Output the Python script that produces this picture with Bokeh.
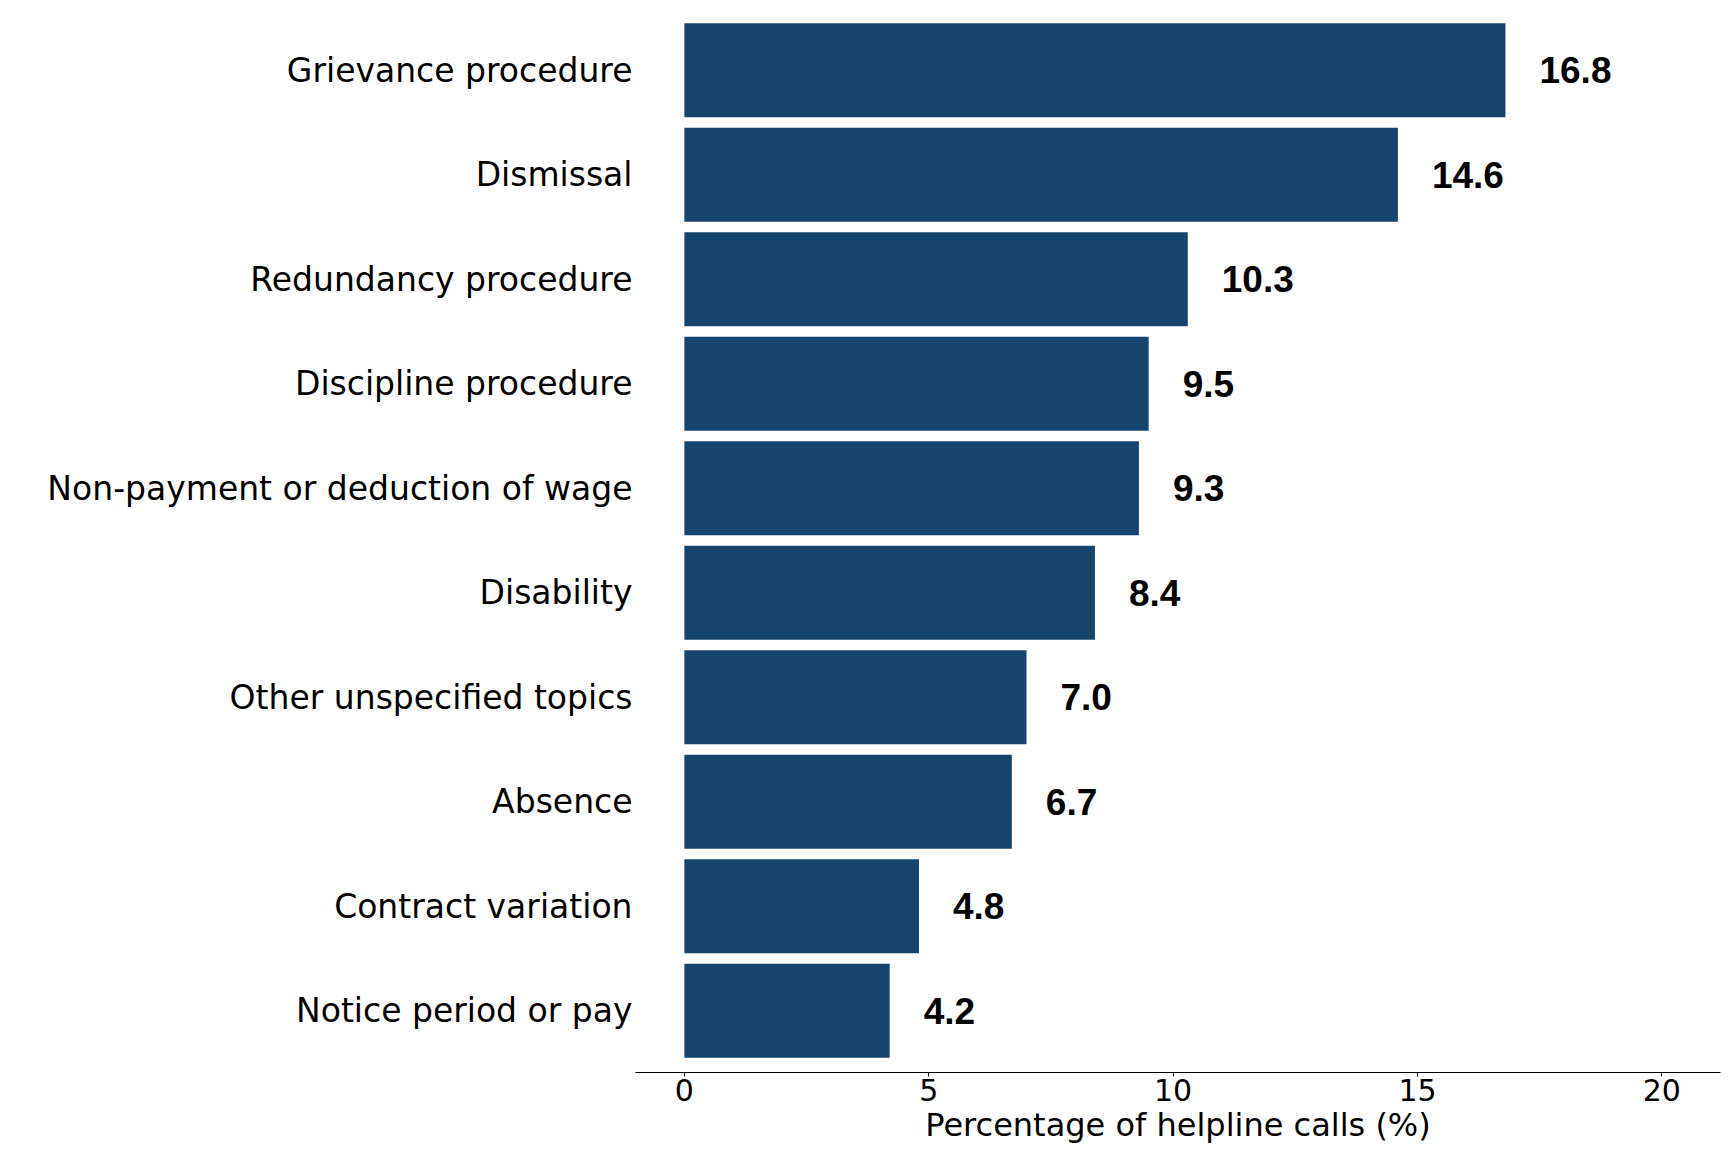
from bokeh.plotting import figure
from bokeh.models import FactorRange, Range1d, FixedTicker, ColumnDataSource
from bokeh.core.properties import value
from bokeh.embed import file_html
from bokeh.resources import INLINE

# Data (top to bottom as shown)
categories = [
    "Grievance procedure",
    "Dismissal",
    "Redundancy procedure",
    "Discipline procedure",
    "Non-payment or deduction of wage",
    "Disability",
    "Other unspecified topics",
    "Absence",
    "Contract variation",
    "Notice period or pay",
]
percentages = [16.8, 14.6, 10.3, 9.5, 9.3, 8.4, 7.0, 6.7, 4.8, 4.2]
x_ticks = [0, 5, 10, 15, 20]
x_title = "Percentage of helpline calls (%)"

BAR = "#15446c"
LABEL_FONT = "DejaVu Sans"

labels = [f"{v:.1f}" for v in percentages]
src = ColumnDataSource(dict(cat=categories, val=percentages, lbl=labels))

p = figure(
    width=1728,
    height=1152,
    y_range=FactorRange(factors=categories[::-1], range_padding=0.09,
                        range_padding_units="absolute"),
    x_range=Range1d(-1.0, 21.2),
    output_backend="svg",
    toolbar_location=None,
    min_border_left=635,
    min_border_right=8,
    min_border_top=8,
    min_border_bottom=80,
)

p.hbar(y="cat", left=0, right="val", height=0.9, source=src,
       fill_color=BAR, line_color=None)

p.text(x="val", y="cat", text="lbl", source=src, x_offset=34,
       text_align="left", text_baseline="middle",
       text_font=value("Liberation Sans"), text_font_style="bold",
       text_font_size="37px", text_color="black")

p.outline_line_color = None
p.xgrid.grid_line_color = None
p.ygrid.grid_line_color = None
p.background_fill_color = "white"
p.border_fill_color = "white"

xa = p.xaxis[0]
xa.ticker = FixedTicker(ticks=x_ticks)
xa.axis_line_color = "black"
xa.axis_line_width = 1
xa.major_tick_in = 0
xa.major_tick_out = 4
xa.major_tick_line_color = "black"
xa.minor_tick_line_color = None
xa.major_label_standoff = 2
xa.major_label_text_font = LABEL_FONT
xa.major_label_text_font_size = "30px"
xa.major_label_text_color = "black"
xa.axis_label = x_title
xa.axis_label_text_font = LABEL_FONT
xa.axis_label_text_font_size = "32px"
xa.axis_label_text_font_style = "normal"
xa.axis_label_text_color = "black"
xa.axis_label_standoff = 2

ya = p.yaxis[0]
ya.axis_line_color = None
ya.major_tick_line_color = None
ya.minor_tick_line_color = None
ya.major_tick_in = 0
ya.major_tick_out = 0
ya.major_label_standoff = 3
ya.major_label_text_font = LABEL_FONT
ya.major_label_text_font_size = "33px"
ya.major_label_text_color = "black"

open("out.html", "w").write(file_html(p, INLINE))
